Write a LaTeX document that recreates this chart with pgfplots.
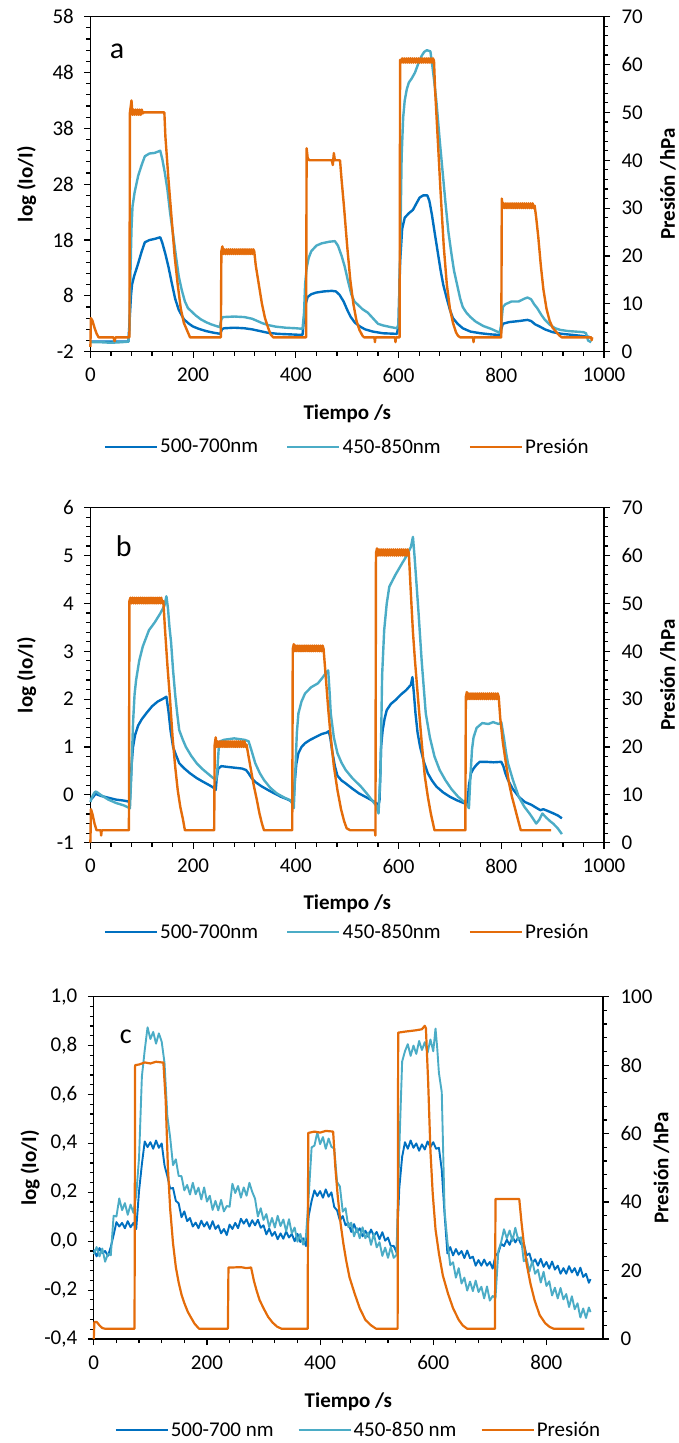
\documentclass[border=0pt]{standalone}
\usepackage{fontspec}
\setmainfont{Carlito}
\usepackage{pgfplots}
\pgfplotsset{compat=1.18}
\definecolor{dblue}{RGB}{0,112,192}
\definecolor{lblue}{RGB}{75,172,198}
\definecolor{orng}{RGB}{228,108,10}
\newcommand{\fs}{\fontsize{21}{25}\selectfont}
\pgfplotsset{
  common/.style={scale only axis, width=513.6pt, height=335pt, anchor=south west,
    axis line style={black, line width=1.2pt},
    every tick/.style={black, line width=1.2pt},
    major tick length=6pt, minor tick length=4pt, tick align=outside,
    /pgf/number format/assume math mode=true,
    /pgf/number format/1000 sep={},
    tick label style={font=\fs},
    label style={font=\fs\bfseries},
    scaled ticks=false, clip=false,
  },
  leftax/.style={common, xtick pos=bottom, ytick pos=left,
    minor x tick num=4, minor y tick num=4,
    xticklabel shift=7pt,
    yticklabel shift=7pt,
    xlabel={Tiempo /s}, ylabel={log (Io/I)},
    xlabel style={at={(axis description cs:0.5,-0.186)}, anchor=center},
    ylabel style={at={(axis description cs:-0.124,0.5)}, anchor=center},
    legend columns=3,
    legend style={draw=none, font=\fs, anchor=center, /tikz/every even column/.append style={column sep=26pt}},
    legend image code/.code={\draw[#1] (0pt,0pt) -- (52pt,0pt);},
  },
  rightax/.style={common, axis x line=none, axis y line*=right, ytick pos=right,
    minor y tick num=4, ylabel={Presión /hPa},
    yticklabel shift=8pt,
    ylabel style={at={(axis description cs:1.1246,0.5)}, anchor=center, rotate=0},
  },
  pl/.style={line width=2.4pt, line join=round, mark=none},
}
\begin{document}
\begin{tikzpicture}
\useasboundingbox (0pt,-1443pt) rectangle (678pt,0pt);
% ================= panel a =================
\begin{axis}[leftax, at={(90.4pt,-351.7pt)}, xmin=0, xmax=1000, ymin=-2, ymax=58,
  xtick={0,200,...,1000}, ytick={-2,8,...,58},
  legend style={at={(axis description cs:0.5,-0.284)}}]
\addplot[pl, dblue] coordinates {(0,-0.2)(74,-0.2)(76,3)(79,8)(81,10)(85,11.5)(92,13.5)(100,16)(106,17.6)(115,18)(125,18.2)(136,18.5)(140,17.5)(146,15.5)(152,13.2)(158,10.5)(165,7.5)(172,5.5)(182,3.8)(192,3)(200,2.5)(211,2.1)(225,1.7)(240,1.4)(253,1.2)(256,2)(260,2.2)(280,2.3)(300,2.2)(315,2)(330,1.7)(345,1.4)(365,1.2)(390,1.1)(413,1.0)(416,4)(419,6.5)(423,7.8)(430,8.3)(440,8.6)(455,8.8)(470,8.9)(478,8.8)(485,8.2)(493,7)(500,5.5)(507,4.2)(515,3.2)(525,2.5)(535,2)(550,1.6)(570,1.3)(597,1.2)(600,3)(603,14)(607,20)(612,22)(620,22.8)(628,23.4)(635,24.6)(641,25.6)(648,26)(656,26)(660,25)(665,22.5)(670,19.5)(676,16)(682,12.5)(687,10)(694,7.5)(700,5.5)(706,4)(715,3)(725,2.2)(740,1.6)(760,1.3)(780,1.1)(797,1.0)(800,2)(803,3)(815,3.3)(835,3.5)(851,3.7)(858,3.5)(866,2.9)(875,2.5)(885,2)(900,1.5)(918,1.2)(940,1.0)(969,0.7)(975,0.5)};
\addplot[pl, lblue] coordinates {(0,-0.3)(20,-0.3)(40,-0.4)(60,-0.3)(74,-0.2)(76,2)(78,12)(80,20)(82,24)(86,26.5)(93,29.5)(100,31.5)(106,33)(115,33.5)(125,33.6)(136,34)(140,32.5)(145,30)(150,27)(155,23)(161,19)(166,15.5)(172,11.5)(178,9)(184,7)(190,5.8)(197,5.2)(205,4.5)(215,3.8)(225,3.3)(235,2.9)(245,2.6)(252,2.4)(255,3.8)(258,4.2)(280,4.3)(300,4.2)(315,3.9)(325,3.5)(335,3.1)(345,2.8)(360,2.5)(380,2.3)(400,2.2)(413,2.1)(416,5)(418,10)(421,13)(425,14.8)(430,16)(440,17)(450,17.4)(465,17.7)(476,17.8)(482,17)(489,15.2)(495,13.3)(502,10.5)(508,8.3)(514,7)(522,6.3)(530,5.6)(540,5)(550,4)(560,3)(570,2.7)(585,2.4)(597,2.2)(600,3)(603,15)(606,33)(609,40)(612,43)(616,45)(620,46.2)(626,47)(632,48)(638,49.5)(645,51)(650,51.7)(655,52)(662,51.8)(666,49)(670,46)(674,42.5)(680,36)(686,30)(691,25)(697,19.5)(703,15.5)(708,12.5)(714,10)(720,7.5)(725,6)(732,5)(740,4.2)(750,3.4)(765,2.6)(780,2.1)(792,1.6)(797,1.4)(800,3)(803,6)(808,6.5)(820,7)(834,7)(845,7.5)(851,7.7)(858,7.4)(864,6.5)(870,5.8)(878,4.6)(885,3.7)(895,2.8)(905,2.2)(915,1.9)(930,1.7)(945,1.6)(960,1.5)(965,1.3)(969,0.0)(975,-0.3)};
\addlegendimage{pl, orng}
\legend{500-700nm, 450-850nm, Presión}
\node[font=\fontsize{30}{32}\selectfont] at (rel axis cs:0.052,0.898) {a};
\end{axis}
\begin{axis}[rightax, at={(90.4pt,-351.7pt)}, xmin=0, xmax=1000, ymin=0, ymax=70, ytick={0,10,...,70}]
\addplot[pl, orng] coordinates {(0,1)(1,7)(4,6.5)(8,5)(12,3.8)(16,3)(45,3)(47,2.2)(49,3)(76,3)(77,50)(80,52.5)(82,49.5)(84,50.6)(86,49.5)(88,50.6)(90,49.5)(92,50.6)(94,49.5)(96,50.6)(98,49.5)(100,50.6)(102,49.8)(104,50)(144,50)(146,45)(152,36)(158,28)(164,20)(170,14)(176,9)(182,6)(186,5)(190,4)(194,3)(254,3)(255,21)(257,22)(259,20.4)(261,21.4)(263,20.4)(265,21.4)(267,20.4)(269,21.4)(271,20.4)(273,21.4)(275,20.4)(277,21.4)(279,20.4)(281,21.4)(283,20.4)(285,21.4)(287,20.4)(289,21.4)(291,20.4)(293,21.4)(295,20.4)(297,21.4)(299,20.4)(301,21.4)(303,20.4)(305,21.4)(307,20.4)(309,21.4)(311,20.4)(313,21.4)(315,20.4)(317,21.4)(319,21)(322,18)(328,14)(334,10)(340,7)(346,5)(351,3.6)(356,3)(420,3)(421,42.5)(423,40.5)(426,40)(470,40)(472,39)(474,41.5)(476,40)(486,40)(489,36)(494,30)(500,22)(506,15)(512,10)(518,6.5)(524,4.5)(530,3.3)(533,3)(553,3)(554,2)(555,3)(593,3)(594,2)(595,3)(602,3)(603,61)(605,60.4)(607,61.3)(609,60.4)(611,61.3)(613,60.4)(615,61.3)(617,60.4)(619,61.3)(621,60.4)(623,61.3)(625,60.4)(627,61.3)(629,60.4)(631,61.3)(633,60.4)(635,61.3)(637,60.4)(639,61.3)(641,60.4)(643,61.3)(645,60.4)(647,61.3)(649,60.4)(651,61.3)(653,60.4)(655,61.3)(657,60.4)(659,61.3)(661,60.4)(663,61.3)(665,60.4)(667,61.3)(669,60.8)(671,55)(676,45)(682,33)(688,22)(694,14)(700,9)(706,6)(712,4)(716,3.3)(720,3)(745,3)(746,2)(747,3)(800,3)(801,32)(803,30)(805,31)(807,30)(809,31)(811,30)(813,31)(815,30)(817,31)(819,30)(821,31)(823,30)(825,31)(827,30)(829,31)(831,30)(833,31)(835,30)(837,31)(839,30)(841,31)(843,30)(845,31)(847,30)(849,31)(851,30)(853,31)(855,30)(857,31)(859,30)(861,31)(863,30)(865,30.5)(868,28)(872,24)(877,18)(882,13)(888,9)(894,6.5)(900,5)(908,4)(914,3.3)(918,3)(975,3)(976,2.4)(977,3)};
\end{axis}
% ================= panel b =================
\begin{axis}[leftax, at={(90.4pt,-842.7pt)}, xmin=0, xmax=1000, ymin=-1, ymax=6,
  xtick={0,200,...,1000}, ytick={-1,0,...,6},
  xlabel style={at={(axis description cs:0.5,-0.181)}},
  legend style={at={(axis description cs:0.5,-0.267)}}]
\addplot[pl, dblue] coordinates {(0,-0.1)(5,-0.05)(10,0.02)(20,-0.02)(35,-0.06)(50,-0.1)(65,-0.12)(74,-0.14)(77,-0.1)(80,0.6)(83,1.0)(87,1.25)(93,1.45)(100,1.58)(110,1.72)(120,1.85)(131,1.95)(140,2.0)(148,2.05)(152,1.75)(156,1.35)(161,1.0)(166,0.85)(173,0.66)(183,0.55)(194,0.45)(207,0.35)(220,0.27)(232,0.2)(241,0.14)(244,0.1)(246,0.35)(249,0.55)(255,0.6)(270,0.58)(295,0.55)(303,0.52)(308,0.45)(314,0.35)(321,0.27)(333,0.18)(346,0.1)(360,0.02)(371,-0.04)(385,-0.1)(392,-0.14)(395,-0.18)(398,0.3)(401,0.65)(405,0.87)(411,1.0)(418,1.08)(428,1.15)(439,1.21)(450,1.27)(460,1.3)(464,1.33)(467,1.2)(471,0.9)(476,0.6)(481,0.4)(489,0.3)(497,0.24)(510,0.13)(523,0.03)(537,-0.05)(552,-0.14)(561,-0.21)(563,-0.1)(566,1.0)(569,1.35)(573,1.6)(577,1.77)(585,1.9)(594,1.98)(605,2.1)(615,2.19)(624,2.3)(627,2.46)(630,2.1)(633,1.7)(637,1.3)(642,1.0)(649,0.7)(657,0.45)(665,0.3)(674,0.17)(687,0.05)(700,-0.04)(715,-0.12)(729,-0.18)(734,-0.2)(737,0.2)(741,0.45)(746,0.55)(752,0.63)(758,0.69)(770,0.69)(785,0.68)(800,0.69)(804,0.6)(808,0.45)(813,0.31)(822,0.13)(834,-0.04)(846,-0.15)(859,-0.21)(868,-0.27)(876,-0.32)(882,-0.3)(889,-0.33)(900,-0.38)(910,-0.43)(918,-0.49)};
\addplot[pl, lblue] coordinates {(0,-0.15)(3,-0.05)(8,0.05)(11,0.07)(20,0.0)(35,-0.1)(50,-0.17)(65,-0.22)(77,-0.28)(80,0.5)(83,1.5)(86,2.1)(89,2.4)(95,2.8)(102,3.1)(114,3.44)(125,3.6)(136,3.79)(144,3.95)(148,4.15)(151,3.9)(154,3.5)(157,3.2)(161,2.6)(165,2.1)(169,1.7)(173,1.35)(180,1.15)(186,1.0)(196,0.82)(207,0.66)(218,0.54)(228,0.45)(238,0.36)(245,0.31)(247,0.5)(250,1.0)(253,1.12)(260,1.15)(280,1.18)(300,1.15)(308,1.12)(313,0.95)(321,0.66)(330,0.45)(338,0.31)(350,0.15)(363,0.03)(378,-0.06)(389,-0.11)(394,-0.2)(396,-0.28)(399,0.5)(402,1.3)(405,1.7)(411,1.95)(418,2.12)(430,2.25)(443,2.33)(452,2.45)(460,2.57)(463,2.6)(466,2.1)(468,1.7)(474,1.2)(481,0.87)(489,0.67)(497,0.52)(510,0.35)(527,0.17)(538,0.03)(548,-0.11)(556,-0.22)(561,-0.39)(565,0.5)(568,2.5)(572,3.44)(577,4.0)(582,4.35)(594,4.6)(607,4.84)(616,5.0)(624,5.18)(628,5.39)(631,5.0)(635,4.4)(639,3.79)(645,2.8)(653,1.7)(661,1.2)(670,0.8)(680,0.52)(691,0.31)(703,0.12)(716,-0.04)(728,-0.15)(734,-0.22)(737,-0.28)(740,0.4)(743,0.95)(746,1.2)(752,1.4)(763,1.5)(775,1.48)(784,1.52)(795,1.48)(800,1.52)(805,1.2)(809,0.9)(813,0.66)(823,0.3)(834,-0.04)(845,-0.25)(855,-0.39)(862,-0.5)(868,-0.6)(874,-0.52)(880,-0.39)(888,-0.48)(895,-0.55)(901,-0.6)(910,-0.7)(918,-0.82)};
\addlegendimage{pl, orng}
\legend{500-700nm, 450-850nm, Presión}
\node[font=\fontsize{30}{32}\selectfont] at (rel axis cs:0.065,0.884) {b};
\end{axis}
\begin{axis}[rightax, at={(90.4pt,-842.7pt)}, xmin=0, xmax=1000, ymin=0, ymax=70, ytick={0,10,...,70}]
\addplot[pl, orng] coordinates {(0,0)(1,7)(4,6)(8,4)(12,2.6)(20,2.6)(21,1.5)(22,2.6)(75,2.6)(76,50.5)(78,51.2)(80,50)(82,51.2)(84,50)(86,51.2)(88,50)(90,51.2)(92,50)(94,51.2)(96,50)(98,51.2)(100,50)(102,51.2)(104,50)(106,51.2)(108,50)(110,51.2)(112,50)(114,51.2)(116,50)(118,51.2)(120,50)(122,51.2)(124,50)(126,51.2)(128,50)(130,51.2)(132,50)(134,51.2)(136,50)(138,51.2)(140,50)(142,50.5)(145,45)(150,37)(155,30)(160,22)(165,16)(170,11)(175,7.5)(180,5)(184,2.6)(241,2.6)(242,20.5)(244,22)(246,20)(248,21.2)(250,20)(252,21.2)(254,20)(256,21.2)(258,20)(260,21.2)(262,20)(264,21.2)(266,20)(268,21.2)(270,20)(272,21.2)(274,20)(276,21.2)(278,20)(280,21.2)(282,20)(284,21.2)(286,20)(288,21.2)(290,20)(292,21.2)(294,20)(296,21.2)(298,20)(300,21.2)(302,20)(304,20.5)(308,18)(313,15)(318,12)(324,9)(329,6.2)(334,4)(338,2.6)(393,2.6)(394,40.5)(396,41.5)(398,40)(400,41.2)(402,40)(404,41.2)(406,40)(408,41.2)(410,40)(412,41.2)(414,40)(416,41.2)(418,40)(420,41.2)(422,40)(424,41.2)(426,40)(428,41.2)(430,40)(432,41.2)(434,40)(436,41.2)(438,40)(440,41.2)(442,40)(444,41.2)(446,40)(448,41.2)(450,40)(452,41.2)(454,40.5)(458,35)(463,28)(468,22)(474,16)(481,11)(488,7)(494,4.5)(499,3)(506,2.6)(554,2.6)(555,1.5)(556,60.5)(558,61.5)(560,60)(562,61.3)(564,60)(566,61.3)(568,60)(570,61.3)(572,60)(574,61.3)(576,60)(578,61.3)(580,60)(582,61.3)(584,60)(586,61.3)(588,60)(590,61.3)(592,60)(594,61.3)(596,60)(598,61.3)(600,60)(602,61.3)(604,60)(606,61.3)(608,60)(610,61.3)(612,60)(614,61.3)(616,60)(618,61.3)(620,60.5)(624,52)(628,44)(632,38)(638,30)(645,21)(651,14)(657,9.6)(663,6)(670,2.6)(730,2.6)(731,30.5)(733,31.5)(735,30)(737,31.2)(739,30)(741,31.2)(743,30)(745,31.2)(747,30)(749,31.2)(751,30)(753,31.2)(755,30)(757,31.2)(759,30)(761,31.2)(763,30)(765,31.2)(767,30)(769,31.2)(771,30)(773,31.2)(775,30)(777,31.2)(779,30)(781,31.2)(783,30)(785,31.2)(787,30)(789,31.2)(791,30)(793,31.2)(795,30.5)(798,26)(803,21)(809,16.6)(815,12.5)(821,9.5)(826,7.5)(832,5)(838,2.6)(897,2.6)};
\end{axis}
% ================= panel c =================
\begin{axis}[leftax, at={(93.8pt,-1339pt)}, width=509.2pt, height=342.3pt, xmin=0, xmax=900, ymin=-0.4, ymax=1.0,
  xtick={0,200,...,800}, ytick={-0.4,-0.2,...,1.0},
  yticklabel style={/pgf/number format/.cd, fixed, fixed zerofill, precision=1, use comma},
  xlabel style={at={(axis description cs:0.5,-0.183)}},
  ylabel style={at={(axis description cs:-0.125,0.5)}},
  legend style={at={(axis description cs:0.52,-0.266)}, /tikz/every even column/.append style={column sep=22pt}}]
\addplot[pl, dblue, line width=1.9pt] coordinates {(0,-0.035)(5,-0.062)(10,-0.028)(15,-0.048)(20,-0.04)(25,-0.06)(30,-0.024)(35,0.025)(40,0.078)(45,0.06)(50,0.075)(55,0.053)(60,0.082)(65,0.057)(70,0.075)(75,0.05)(80,0.206)(85,0.315)(90,0.408)(95,0.385)(100,0.405)(105,0.378)(110,0.412)(115,0.382)(120,0.40)(125,0.31)(130,0.266)(135,0.215)(140,0.218)(145,0.165)(150,0.155)(155,0.098)(160,0.122)(165,0.082)(170,0.095)(175,0.06)(180,0.076)(185,0.053)(190,0.084)(195,0.06)(200,0.078)(205,0.05)(210,0.082)(215,0.05)(220,0.065)(225,0.032)(230,0.05)(235,0.025)(240,0.068)(245,0.05)(250,0.075)(255,0.053)(260,0.092)(265,0.072)(270,0.09)(275,0.06)(280,0.086)(285,0.065)(290,0.088)(295,0.055)(300,0.065)(305,0.028)(310,0.052)(315,0.022)(320,0.038)(325,0.008)(330,0.032)(335,0.01)(340,0.04)(345,0.015)(350,0.03)(355,0.0)(360,0.03)(365,-0.003)(370,0.012)(375,-0.02)(380,0.106)(385,0.165)(390,0.208)(395,0.185)(400,0.205)(405,0.178)(410,0.212)(415,0.182)(420,0.2)(425,0.14)(430,0.126)(435,0.085)(440,0.103)(445,0.065)(450,0.075)(455,0.038)(460,0.07)(465,0.038)(470,0.053)(475,0.02)(480,0.043)(485,0.018)(490,0.048)(495,0.022)(500,0.038)(505,0.008)(510,0.037)(515,0.002)(520,0.015)(525,-0.02)(530,-0.019)(535,-0.045)(540,0.218)(545,0.345)(550,0.405)(555,0.378)(560,0.412)(565,0.382)(570,0.40)(575,0.37)(580,0.396)(585,0.375)(590,0.408)(595,0.385)(600,0.405)(605,0.378)(610,0.382)(615,0.292)(620,0.11)(625,-0.05)(630,-0.024)(635,-0.058)(640,-0.032)(645,-0.055)(650,-0.04)(655,-0.069)(660,-0.038)(665,-0.07)(670,-0.063)(675,-0.1)(680,-0.077)(685,-0.1)(690,-0.075)(695,-0.1)(700,-0.085)(705,-0.112)(710,-0.058)(715,-0.048)(720,-0.01)(725,-0.02)(730,0.006)(735,-0.015)(740,0.018)(745,-0.005)(750,0.015)(755,-0.012)(760,-0.008)(765,-0.058)(770,-0.05)(775,-0.09)(780,-0.074)(785,-0.1)(790,-0.072)(795,-0.105)(800,-0.085)(805,-0.112)(810,-0.083)(815,-0.116)(820,-0.1)(825,-0.133)(830,-0.11)(835,-0.133)(840,-0.102)(845,-0.128)(850,-0.11)(855,-0.14)(860,-0.108)(865,-0.146)(870,-0.133)(875,-0.17)(878,-0.155)};
\addplot[pl, lblue, line width=1.9pt] coordinates {(0,-0.053)(5,-0.024)(10,-0.062)(15,-0.03)(20,-0.084)(25,-0.051)(30,-0.058)(35,0.104)(40,0.101)(45,0.175)(50,0.127)(55,0.156)(60,0.108)(65,0.15)(70,0.116)(75,0.189)(80,0.342)(85,0.674)(90,0.781)(95,0.875)(100,0.827)(105,0.856)(110,0.808)(115,0.85)(120,0.816)(125,0.729)(130,0.512)(135,0.424)(140,0.311)(145,0.335)(150,0.267)(155,0.266)(160,0.208)(165,0.23)(170,0.191)(175,0.239)(180,0.192)(185,0.219)(190,0.171)(195,0.22)(200,0.162)(205,0.186)(210,0.128)(215,0.165)(220,0.126)(225,0.169)(230,0.122)(235,0.144)(240,0.141)(245,0.235)(250,0.197)(255,0.226)(260,0.178)(265,0.22)(270,0.186)(275,0.239)(280,0.202)(285,0.174)(290,0.101)(295,0.135)(300,0.087)(305,0.111)(310,0.058)(315,0.095)(320,0.056)(325,0.104)(330,0.062)(335,0.089)(340,0.041)(345,0.09)(350,0.032)(355,0.056)(360,-0.002)(365,0.03)(370,-0.014)(375,0.019)(380,0.192)(385,0.384)(390,0.391)(395,0.445)(400,0.397)(405,0.426)(410,0.378)(415,0.42)(420,0.386)(425,0.379)(430,0.242)(435,0.224)(440,0.121)(445,0.135)(450,0.057)(455,0.076)(460,0.02)(465,0.054)(470,0.012)(475,0.057)(480,0.012)(485,0.036)(490,-0.015)(495,0.031)(500,-0.025)(505,-0.004)(510,-0.06)(515,-0.026)(520,-0.068)(525,-0.023)(530,-0.068)(535,-0.056)(540,0.381)(545,0.735)(550,0.777)(555,0.806)(560,0.758)(565,0.8)(570,0.766)(575,0.819)(580,0.782)(585,0.814)(590,0.771)(595,0.825)(600,0.777)(604,0.87)(607,0.79)(610,0.688)(615,0.61)(620,0.126)(625,-0.001)(630,-0.098)(635,-0.086)(640,-0.149)(645,-0.11)(650,-0.173)(655,-0.149)(660,-0.202)(665,-0.165)(670,-0.204)(675,-0.161)(680,-0.208)(685,-0.186)(690,-0.234)(695,-0.185)(700,-0.243)(705,-0.224)(710,-0.232)(715,-0.04)(720,-0.004)(725,0.049)(730,0.012)(735,0.044)(740,0.001)(745,0.055)(750,0.007)(755,0.016)(760,-0.082)(765,-0.07)(770,-0.124)(775,-0.081)(780,-0.133)(785,-0.116)(790,-0.169)(795,-0.125)(800,-0.183)(805,-0.164)(810,-0.222)(815,-0.19)(820,-0.234)(825,-0.191)(830,-0.238)(835,-0.216)(840,-0.269)(845,-0.225)(850,-0.278)(855,-0.254)(860,-0.312)(865,-0.275)(870,-0.314)(875,-0.271)(878,-0.29)};
\addlegendimage{pl, orng}
\legend{500-700 nm, 450-850 nm, Presión}
\node[font=\fontsize{28}{30}\selectfont] at (rel axis cs:0.063,0.882) {c};
\end{axis}
\begin{axis}[rightax, at={(93.8pt,-1339pt)}, width=509.2pt, height=342.3pt, xmin=0, xmax=900, ymin=0, ymax=100, ytick={0,20,...,100},
  ylabel style={at={(axis description cs:1.115,0.5)}}]
\addplot[pl, orng, line width=2.2pt] coordinates {(0,0)(1,5)(5,5)(10,4)(15,3.2)(20,3)(72,3)(73,80)(80,80.2)(90,80.8)(100,80.5)(110,81)(120,80.8)(123,80.8)(127,70)(131,50)(135,38)(140,28)(145,21)(150,16.5)(155,13)(160,10.5)(166,8)(171,6.5)(178,4.5)(186,3)(237,3)(238,20.9)(245,20.9)(260,21)(270,20.7)(278,20.9)(283,17)(288,14)(293,11.4)(300,9)(308,6.5)(316,4.8)(324,3.6)(332,3)(378,3)(379,60.2)(390,60.6)(400,60.3)(410,60.8)(423,60.6)(427,50)(431,42)(436,34)(441,28)(446,23)(452,18)(461,13.3)(470,9)(480,5.6)(490,4)(499,3)(537,3)(538,89.5)(550,89.8)(560,90)(570,90.2)(580,90.5)(585,91.5)(587,90.8)(591,75)(595,55)(599,42.6)(604,32)(610,25)(617,18.5)(626,13.3)(635,9)(645,5.6)(652,4)(660,3)(709,3)(710,40.9)(720,40.9)(735,40.9)(752,40.9)(756,34)(760,28)(765,22)(772,16)(779,11.4)(788,7)(798,4.6)(806,3.5)(813,3)(867,3)};
\end{axis}
\end{tikzpicture}
\end{document}
